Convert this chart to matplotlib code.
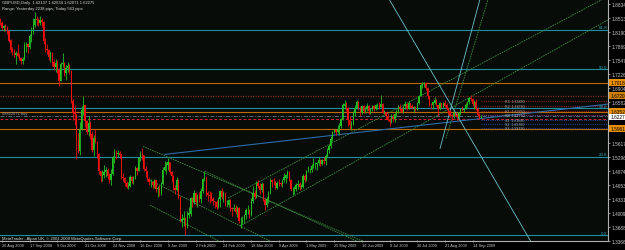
import matplotlib
matplotlib.use('Agg')
import matplotlib.pyplot as plt
import numpy as np
import pandas as pd

# ---------------- data ----------------
dates = pd.bdate_range('2008-08-25', '2009-09-21')
dates = dates[~dates.isin(pd.to_datetime(['2008-12-25', '2009-01-01']))]

first_open = 1.8480
closes = [
 1.8400,1.8290,1.8310,1.8270,1.8200, 1.7990,1.7780,1.7730,1.7650,1.7710,
 1.7640,1.7590,1.7510,1.7560,1.7890, 1.7900,1.7830,1.8100,1.8180,1.8360,
 1.8480,1.8460,1.8400,1.8460,1.8420, 1.7970,1.7800,1.7770,1.7610,1.7700,
 1.7480,1.7380,1.7460,1.7300,1.7050, 1.7450,1.7460,1.7230,1.7360,1.7400,
 1.7280,1.6580,1.6330,1.6300,1.5700, 1.5450,1.5950,1.6380,1.6490,1.6130,
 1.5890,1.6090,1.5820,1.5470,1.5740, 1.5650,1.5380,1.4980,1.4870,1.4880,
 1.4950,1.5010,1.4860,1.4770,1.4910, 1.5290,1.5420,1.5380,1.5400,1.5360,
 1.4840,1.4820,1.4700,1.4620,1.4640, 1.4830,1.4750,1.4820,1.5040,1.4980,
 1.5270,1.5400,1.5350,1.5020,1.4980, 1.4800,1.4720,1.4720,1.4660,
 1.4760,1.4560,1.4590,1.4470, 1.4680,1.5000,1.5080,1.5110,1.5180,
 1.4960,1.4860,1.4580,1.4550,1.4780, 1.4360,1.3830,1.3860,1.3900,1.3690,
 1.3960,1.4000,1.4350,1.4270,1.4480, 1.4260,1.4390,1.4330,1.4520,1.4790,
 1.4810,1.4460,1.4420,1.4400,1.4340, 1.4280,1.4260,1.4160,1.4330,1.4510,
 1.4380,1.4480,1.4200,1.4200,1.4300, 1.4120,1.4100,1.4130,1.4030,1.4130,
 1.3830,1.3830,1.3850,1.3960,1.4070, 1.4070,1.3960,1.4300,1.4470,1.4390,
 1.4710,1.4640,1.4550,1.4680,1.4310, 1.4200,1.4320,1.4480,1.4780,1.4730,
 1.4720,1.4600,1.4710,1.4700,1.4670, 1.4780,1.4830,1.4890,1.4950,1.4770,
 1.4560,1.4560,1.4560,1.4660,1.4680, 1.4610,1.4620,1.4860,1.4780,1.4980,
 1.5000,1.5010,1.5100,1.5140,1.5140, 1.5170,1.5230,1.5150,1.5230,1.5210,
 1.5320,1.5470,1.5550,1.5720,1.5880, 1.5920,1.5880,1.5940,1.6020,1.6170,
 1.6490,1.6530,1.6420,1.6150,1.6040, 1.6060,1.6320,1.6440,1.6560,1.6430,
 1.6320,1.6480,1.6360,1.6420,1.6470, 1.6360,1.6410,1.6480,1.6400,1.6500,
 1.6500,1.6460,1.6530,1.6330,1.6330, 1.6250,1.6150,1.6100,1.6230,1.6190,
 1.6300,1.6350,1.6450,1.6410,1.6340, 1.6470,1.6530,1.6420,1.6550,1.6470,
 1.6430,1.6460,1.6390,1.6550,1.6710, 1.6960,1.6980,1.7000,1.6890,1.6700,
 1.6510,1.6500,1.6560,1.6620,1.6510, 1.6400,1.6550,1.6460,1.6550,1.6490,
 1.6420,1.6360,1.6260,1.6250,1.6310, 1.6270,1.6230,1.6330,1.6410,1.6390,
 1.6410,1.6510,1.6570,1.6650,1.6640, 1.6530,1.6570,1.6410,1.6280,1.62137,
 1.62275]
highs = [
 1.8520,1.8430,1.8360,1.8380,1.8330, 1.8230,1.8020,1.7850,1.7800,1.7740,
 1.7900,1.7700,1.7620,1.7600,1.7950, 1.7960,1.7940,1.8140,1.8300,1.8500,
 1.8650,1.8560,1.8520,1.8550,1.8500, 1.8440,1.8050,1.7900,1.7800,1.7750,
 1.7720,1.7560,1.7560,1.7530,1.7350, 1.7500,1.7710,1.7500,1.7420,1.7500,
 1.7450,1.7300,1.6650,1.6500,1.6300, 1.5850,1.6100,1.6480,1.6700,1.6500,
 1.6150,1.6240,1.6140,1.5900,1.5800, 1.5960,1.5680,1.5390,1.4980,1.5000,
 1.5110,1.5080,1.5060,1.4940,1.5030, 1.5330,1.5480,1.5470,1.5460,1.5450,
 1.5370,1.4930,1.4840,1.4750,1.4720, 1.4890,1.4860,1.4860,1.5090,1.5080,
 1.5300,1.5450,1.5520,1.5350,1.5090, 1.4990,1.4850,1.4790,1.4760,
 1.4800,1.4780,1.4640,1.4650, 1.4720,1.5070,1.5220,1.5180,1.5270,
 1.5180,1.4990,1.4880,1.4650,1.4850, 1.4800,1.4400,1.4000,1.4050,1.3910,
 1.4060,1.4150,1.4390,1.4380,1.4550, 1.4500,1.4450,1.4500,1.4580,1.4830,
 1.4990,1.4860,1.4530,1.4510,1.4500, 1.4380,1.4300,1.4320,1.4380,1.4540,
 1.4580,1.4520,1.4500,1.4320,1.4340, 1.4340,1.4160,1.4220,1.4200,1.4180,
 1.4140,1.3930,1.3950,1.3990,1.4130, 1.4190,1.4110,1.4350,1.4630,1.4550,
 1.4750,1.4780,1.4700,1.4720,1.4700, 1.4360,1.4380,1.4530,1.4810,1.4800,
 1.4820,1.4740,1.4740,1.4800,1.4720, 1.4800,1.4930,1.4920,1.5010,1.4990,
 1.4790,1.4620,1.4640,1.4700,1.4770, 1.4720,1.4670,1.4900,1.4900,1.5000,
 1.5090,1.5060,1.5140,1.5290,1.5180, 1.5180,1.5300,1.5260,1.5260,1.5310,
 1.5370,1.5510,1.5600,1.5790,1.5900, 1.5950,1.5960,1.6040,1.6080,1.6200,
 1.6540,1.6610,1.6580,1.6450,1.6250, 1.6130,1.6370,1.6500,1.6610,1.6590,
 1.6470,1.6500,1.6510,1.6460,1.6540, 1.6510,1.6440,1.6500,1.6510,1.6530,
 1.6560,1.6580,1.6740,1.6560,1.6380, 1.6350,1.6310,1.6210,1.6300,1.6290,
 1.6330,1.6410,1.6500,1.6520,1.6450, 1.6490,1.6590,1.6560,1.6590,1.6560,
 1.6520,1.6480,1.6480,1.6580,1.6740, 1.6980,1.7030,1.7040,1.7030,1.6920,
 1.6720,1.6560,1.6600,1.6680,1.6650, 1.6500,1.6570,1.6560,1.6580,1.6620,
 1.6560,1.6440,1.6380,1.6300,1.6350, 1.6330,1.6330,1.6350,1.6430,1.6470,
 1.6440,1.6540,1.6600,1.6680,1.6740, 1.6660,1.6610,1.6640,1.6460,1.6320,
 1.62634]
lows = [
 1.8360,1.8240,1.8220,1.8200,1.8150, 1.7950,1.7720,1.7660,1.7600,1.7460,
 1.7600,1.7530,1.7440,1.7440,1.7550, 1.7720,1.7710,1.7790,1.7960,1.8140,
 1.8300,1.8340,1.8330,1.8350,1.8300, 1.7900,1.7720,1.7670,1.7550,1.7500,
 1.7400,1.7300,1.7260,1.7250,1.6930, 1.7060,1.7380,1.7180,1.7090,1.7260,
 1.7220,1.6550,1.6150,1.6050,1.5250, 1.5400,1.5350,1.5920,1.6280,1.6000,
 1.5830,1.5780,1.5710,1.5420,1.5330, 1.5620,1.5290,1.4900,1.4720,1.4750,
 1.4830,1.4850,1.4800,1.4710,1.4650, 1.4890,1.5170,1.5260,1.5300,1.5280,
 1.4800,1.4760,1.4640,1.4580,1.4560, 1.4620,1.4700,1.4680,1.4800,1.4880,
 1.4970,1.5210,1.5240,1.4970,1.4850, 1.4760,1.4660,1.4620,1.4600,
 1.4600,1.4500,1.4380,1.4400, 1.4420,1.4660,1.4970,1.4920,1.5010,
 1.4920,1.4720,1.4540,1.4460,1.4520, 1.4330,1.3800,1.3700,1.3720,1.3500,
 1.3670,1.3900,1.3950,1.4150,1.4220, 1.4200,1.4160,1.4270,1.4250,1.4480,
 1.4740,1.4400,1.4300,1.4250,1.4300, 1.4200,1.4130,1.4100,1.4130,1.4150,
 1.4330,1.4260,1.4180,1.4140,1.4160, 1.4050,1.3950,1.4060,1.3980,1.3930,
 1.3780,1.3660,1.3750,1.3780,1.3880, 1.4000,1.3900,1.3950,1.4250,1.4330,
 1.4360,1.4600,1.4460,1.4500,1.4290, 1.4080,1.4140,1.4250,1.4460,1.4620,
 1.4650,1.4560,1.4560,1.4630,1.4630, 1.4610,1.4730,1.4700,1.4820,1.4750,
 1.4530,1.4430,1.4460,1.4520,1.4560, 1.4550,1.4560,1.4600,1.4720,1.4760,
 1.4960,1.4940,1.4960,1.5040,1.5020, 1.5010,1.5120,1.5100,1.5120,1.5150,
 1.5110,1.5300,1.5400,1.5520,1.5680, 1.5850,1.5800,1.5850,1.5820,1.5970,
 1.6150,1.6420,1.6370,1.6020,1.5960, 1.5920,1.6040,1.6240,1.6410,1.6380,
 1.6260,1.6300,1.6310,1.6320,1.6370, 1.6300,1.6300,1.6370,1.6360,1.6380,
 1.6420,1.6420,1.6450,1.6310,1.6290, 1.6180,1.6130,1.6020,1.6080,1.6120,
 1.6120,1.6220,1.6310,1.6360,1.6320, 1.6330,1.6420,1.6390,1.6400,1.6440,
 1.6400,1.6350,1.6360,1.6380,1.6530, 1.6700,1.6900,1.6920,1.6850,1.6640,
 1.6480,1.6400,1.6420,1.6530,1.6480, 1.6260,1.6380,1.6440,1.6430,1.6450,
 1.6380,1.6300,1.6220,1.6150,1.6200, 1.6240,1.6150,1.6180,1.6280,1.6360,
 1.6340,1.6400,1.6450,1.6530,1.6590, 1.6490,1.6400,1.6390,1.6250,1.6180,
 1.62071]

price_ticks = [1.88340, 1.85130, 1.81900, 1.78690, 1.75470, 1.72260, 1.69040,
               1.65820, 1.62610, 1.59390, 1.56170, 1.52960, 1.49740, 1.46530,
               1.43310, 1.40090, 1.36880, 1.33660]
date_labels = ["26 Aug 2008", "17 Sep 2008", "9 Oct 2008", "31 Oct 2008",
               "24 Nov 2008", "16 Dec 2008", "9 Jan 2009", "2 Feb 2009",
               "24 Feb 2009", "18 Mar 2009", "9 Apr 2009", "1 May 2009",
               "25 May 2009", "16 Jun 2009", "8 Jul 2009", "30 Jul 2009",
               "21 Aug 2009", "14 Sep 2009"]

fib_high, fib_low = 2.1161, 1.3503
fib_levels = [0.0, 23.6, 38.2, 50.0, 61.8]

orange_levels = [1.7018, 1.6352, 1.5961]
brown_level = 1.6720
order_price = 1.6253
sl_price = 1.6191
last_price = 1.62275

pivot_names = ["R3", "R2", "R1", "PP", "S1", "S2", "S3"]
pivot_levels = [1.6589, 1.6478, 1.6375, 1.6271, 1.6168, 1.6076, 1.5973]

# trend lines: (bar1, price1, bar2, price2)
green_lines = [
    (82.5, 1.5548, 207.9, 1.3388),
    (86.6, 1.4767, 155.9, 1.3365),
    (86.6, 1.4192, 123.0, 1.3434),
    (118.3, 1.4973, 202.2, 1.3434),
    (138.6, 1.3710, 323.5, 1.7845),
    (131.6, 1.4353, 323.5, 1.8420),
    (257.6, 1.5732, 282.0, 1.8948),
]
blue_line = (95.2, 1.5364, 323.5, 1.6398)
cyan_lines = [(224.7, 1.8948, 306.2, 1.3388),
              (254.2, 1.5502, 277.3, 1.8948)]

# ---------------- figure ----------------
FONT = 'Liberation Sans'
W, H = 625, 251
fig = plt.figure(figsize=(W/100, H/100), dpi=100)
fig.patch.set_facecolor('#000000')
bg = '#070c09'
ax = fig.add_axes([0, (H-242)/H, 608/W, 242/H])
ax.set_facecolor(bg)

px_per_bar = 1.73
x0 = -0.27/px_per_bar
x1 = (608-0.27)/px_per_bar
k = 0.0022976
ymax = 1.3503 + 237*k
ymin = 1.3503 - 5*k
ax.set_xlim(x0, x1)
ax.set_ylim(ymin, ymax)

n = len(closes)
idx = np.arange(n)
opens = [first_open] + closes[:-1]
o = np.array(opens); c = np.array(closes); h = np.array(highs); l = np.array(lows)
up = c >= o
col = np.where(up, '#22c022', '#f01010')

# fib lines
for lv in fib_levels:
    p = fib_low + (fib_high-fib_low)*lv/100
    ax.axhline(p, color='#1f8f9c', lw=0.8, zorder=1)
    ax.text(x1-0.5, p+0.0010, f"{lv:.1f}", color='#2aa4b4', fontsize=3.2,
            family=FONT, ha='right', va='bottom', zorder=5)

for p in orange_levels:
    ax.axhline(p, color='#c06800', lw=0.8, zorder=1)
ax.axhline(brown_level, color='#7a2a12', lw=0.9, ls=(0, (1, 1)), zorder=1)

# order lines
ax.axhline(order_price, color='#566878', lw=0.7, ls=(0, (4, 1.5, 1, 1.5)), zorder=1)
ax.axhline(sl_price, color='#d02030', lw=0.7, ls=(0, (3, 2)), zorder=1)
ax.text(2/px_per_bar, order_price+0.0015, "#8852071 buy", color='#9aa0a8',
        fontsize=2.9, family=FONT, ha='left', va='bottom', zorder=5)

# pivot lines for the current day with labels
for name, p in zip(pivot_names, pivot_levels):
    cl = '#8a1a1a' if name.startswith('R') else ('#1a3a8a' if name.startswith('S') else '#7a2a7a')
    ax.hlines(p, n - 1, x1, color=cl, lw=0.8, ls=(0, (1, 1)), zorder=1)
    ax.text(n + 13, p, f"{name}  {p:.5f}", color='#a8a8a8', fontsize=2.6,
            family=FONT, ha='left', va='center', zorder=5)

def ray(b1, p1, b2, p2, color, lw=0.6, ls='-'):
    slope = (p2-p1)/(b2-b1)
    xs = np.array([b1, x1])
    ys = p1 + slope*(xs-b1)
    ax.plot(xs, ys, color=color, lw=lw, ls=ls, zorder=2)

for ln in green_lines:
    ray(*ln, color='#3c8a3c', lw=0.6, ls=(0, (2, 1)))
ray(*blue_line, color='#2c6aa8', lw=0.8)
for ln in cyan_lines:
    ray(*ln, color='#6cc4cc', lw=0.6)

# candles
ax.vlines(idx, l, h, colors=col, lw=0.6, zorder=3)
ax.bar(idx, np.abs(c-o)+0.0004, bottom=np.minimum(o, c), width=0.7,
       color=col, lw=0, zorder=3)

# frame
for s in ['top', 'left']:
    ax.spines[s].set_visible(False)
for s in ['right', 'bottom']:
    ax.spines[s].set_color('#b0b0b0')
    ax.spines[s].set_linewidth(0.8)

# price axis
ax.yaxis.tick_right()
ax.set_yticks(price_ticks)
ax.set_yticklabels([f"{v:.5f}" for v in price_ticks], family=FONT)
ax.tick_params(axis='y', colors='#c8c8c8', labelsize=3.4, length=1.5,
               width=0.5, pad=1)
# date axis
pos = [int(np.where(dates == pd.to_datetime(d, format='%d %b %Y'))[0][0])
       for d in date_labels]
ax.set_xticks(pos)
ax.set_xticklabels(date_labels, ha='left', family=FONT)
ax.tick_params(axis='x', colors='#c8c8c8', labelsize=2.8, length=2, width=0.5,
               pad=0.8, direction='inout')

# price tags on axis
def tag(p, fc, txt_col='black'):
    ax.annotate(f"{p:.5f}", xy=(1, p), xycoords=('axes fraction', 'data'),
                xytext=(1.5, 0), textcoords='offset points', fontsize=3.4,
                family=FONT, color=txt_col, va='center', ha='left',
                bbox=dict(boxstyle='square,pad=0.15', fc=fc, ec='none'),
                annotation_clip=False, zorder=10)

for p in orange_levels:
    tag(p, '#e89000')
tag(brown_level, '#d08000')
tag(last_price, '#ffffff')

# header text
ax.text(1.5/px_per_bar, ymax - 0.0015, "GBPUSD,Daily  1.62137 1.62634 1.62071 1.62275",
        color='#d8d8d8', fontsize=3.0, family=FONT, ha='left', va='top', zorder=6)
ax.text(1.5/px_per_bar, ymax - 0.0160, "Range: Yesterday 2238 pips; Today 563 pips",
        color='#d8d8d8', fontsize=3.0, family=FONT, ha='left', va='top', zorder=6)
ax.text(1.5/px_per_bar, ymin + 0.0012,
        "MetaTrader - Alpari UK, \u00a9 2001-2009 MetaQuotes Software Corp.",
        color='#d8d8d8', fontsize=3.0, family=FONT, ha='left', va='bottom', zorder=6)

fig.savefig('out.png', dpi=100, facecolor=fig.get_facecolor())
